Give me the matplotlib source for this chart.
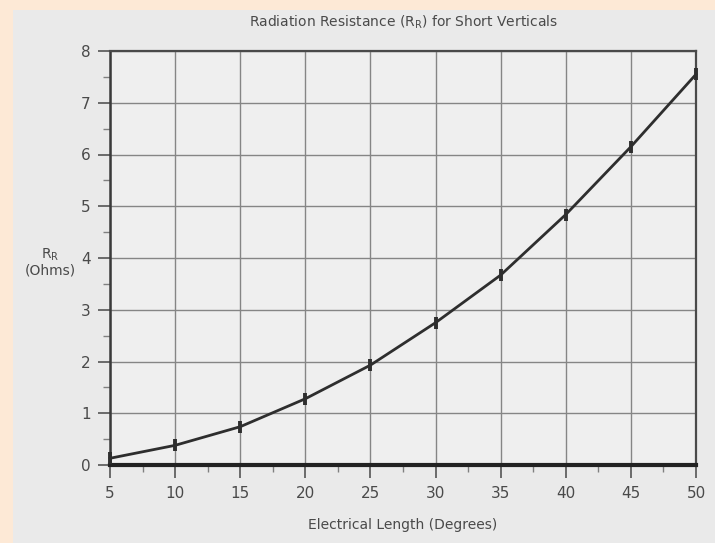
import matplotlib
matplotlib.use("Agg")
import matplotlib.pyplot as plt
from matplotlib.patches import Rectangle
from matplotlib.ticker import MultipleLocator

# Data
length_deg = [5, 10, 15, 20, 25, 30, 35, 40, 45, 50]
r_ohms = [0.13, 0.38, 0.74, 1.28, 1.93, 2.75, 3.67, 4.84, 6.15, 7.55]
x_ticks = [5, 10, 15, 20, 25, 30, 35, 40, 45, 50]
y_ticks = [0, 1, 2, 3, 4, 5, 6, 7, 8]

title = "Radiation Resistance (R$_\\mathregular{R}$) for Short Verticals"
xlabel = "Electrical Length (Degrees)"
ylabel = "R$_\\mathregular{R}$\n(Ohms)"

plt.rcParams['font.family'] = ['DejaVu Sans']
text_color = '#4a4a4a'

fig = plt.figure(figsize=(7.15, 5.43), dpi=100)
fig.patch.set_facecolor('#fde9d6')

# scanned page background (behind the chart)
bg = fig.add_axes([0, 0, 1, 1], zorder=-10)
bg.set_xlim(0, 715)
bg.set_ylim(543, 0)
bg.axis('off')
bg.add_patch(Rectangle((13, 10), 715 - 13, 543 - 10, facecolor='#eaeaea', edgecolor='none'))

ax = fig.add_axes([110 / 715, 1 - 465 / 543, (696 - 110) / 715, (465 - 51) / 543])
ax.set_facecolor('#efefef')

ax.plot(length_deg, r_ohms, color='#2e2e2e', lw=2.0, marker='|', ms=9, mew=2.8,
        zorder=3, clip_on=False)

ax.set_xlim(5, 50)
ax.set_ylim(0, 8)
ax.set_xticks(x_ticks)
ax.set_yticks(y_ticks)
ax.xaxis.set_minor_locator(MultipleLocator(2.5))
ax.yaxis.set_minor_locator(MultipleLocator(0.5))
ax.grid(True, which='major', color='#858585', lw=1.0)
ax.set_axisbelow(True)

ax.tick_params(axis='both', which='major', direction='out', length=9, width=1.2,
               color='#555555', labelsize=11, labelcolor=text_color)
ax.tick_params(axis='both', which='minor', direction='out', length=5, width=1.0,
               color='#808080')
ax.tick_params(axis='x', which='major', pad=6)
ax.tick_params(axis='y', which='major', pad=5)

for side in ['top', 'right']:
    ax.spines[side].set_color('#4a4a4a')
    ax.spines[side].set_linewidth(1.6)
ax.spines['left'].set_color('#3a3a3a')
ax.spines['left'].set_linewidth(1.8)
ax.spines['bottom'].set_color('#222222')
ax.spines['bottom'].set_linewidth(3.0)

fig.text(403 / 715, 1 - 22 / 543, title, ha='center', va='center', fontsize=10,
         color=text_color)
ax.set_xlabel(xlabel, fontsize=10, color=text_color, labelpad=12)
fig.text(50 / 715, 1 - 262 / 543, ylabel, ha='center', va='center', fontsize=10,
         color=text_color, linespacing=1.1)

fig.savefig("out.png", dpi=100, facecolor=fig.get_facecolor())
